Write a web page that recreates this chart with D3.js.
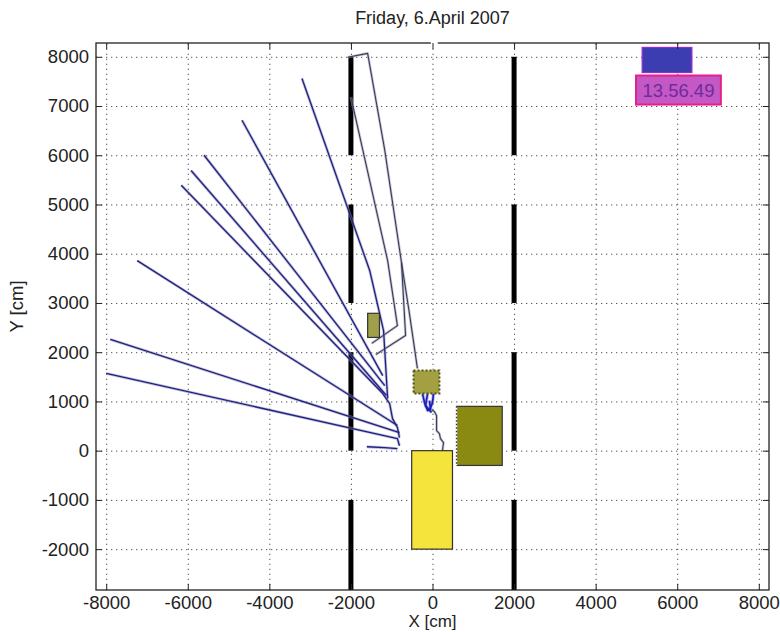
<!DOCTYPE html>
<html>
<head>
<meta charset="utf-8">
<script src="https://d3js.org/d3.v7.min.js"></script>
<style>
  body { margin: 0; background: #fff; }
  svg text { font-family: "Liberation Sans", Arial, sans-serif; fill: #222; }
  .grid line { stroke: #555; stroke-dasharray: 1.3, 3.7; }
  .grid path, .axis path { display: none; }
  .axis line { stroke: #222; }
  .axis text { font-size: 18.5px; }
</style>
</head>
<body>
<div id="chart"></div>
<script>
// tick values
var xTicks = [-8000, -6000, -4000, -2000, 0, 2000, 4000, 6000, 8000];
var yTicks = [-2000, -1000, 0, 1000, 2000, 3000, 4000, 5000, 6000, 7000, 8000];

// lane markings (x position, dash y-ranges in cm)
var laneX = [-2000, 2000];
var laneDashes = [[6000, 8000], [3000, 5000], [0, 2000], [-3000, -1000]];

// objects: [x0, x1, y0, y1] in cm
var objNames = ["car", "truck", "box", "post", "clockTop", "clock"];
var objBounds = [
  [-510, 490, -2000, 0],
  [590, 1710, -300, 900],
  [-465, 170, 1160, 1630],
  [-1590, -1300, 2300, 2790],
  [5140, 6360, 7680, 8190],
  [4990, 7070, 7030, 7620]
];
var clockText = "13.56.49";

// tracked paths [x, y] in cm
var fanTracks = [
  [[-8000, 1570], [-860, 245], [-810, 100]],
  [[-7900, 2260], [-810, 365]],
  [[-7240, 3860], [-860, 510]],
  [[-6160, 5390], [-1220, 1160], [-1050, 955], [-980, 650], [-860, 470], [-810, 265]],
  [[-5920, 5690], [-1130, 1120]],
  [[-5600, 6000], [-1170, 1320]],
  [[-4670, 6710], [-1220, 1525]],
  [[-3200, 7560], [-1540, 3660], [-1200, 2440], [-1100, 1060]],
  [[-1610, 80], [-1170, 60], [-860, 40]]
];
var loopTracks = [
  [[-2080, 7990], [-1590, 8070], [-1170, 6100], [-760, 3820], [-660, 2340], [-1390, 1950]],
  [[-2000, 7180], [-1100, 3860], [-860, 2540], [-1490, 2180]],
  [[-760, 3820], [-570, 2810], [-370, 1670]],
  [[245, 0], [270, 165], [195, 245], [170, 345], [100, 405], [100, 710], [50, 790], [-25, 835]]
];
var tangleTracks = [
  [[-245, 1160], [-195, 975], [-120, 815], [-50, 855], [-75, 1015]],
  [[-120, 1160], [-170, 915], [-25, 775]],
  [[25, 1160], [0, 975], [-75, 815]]
];

var margin = {top: 43, right: 11, bottom: 42, left: 96},
    width = 780 - margin.left - margin.right,
    height = 632 - margin.top - margin.bottom;

var x = d3.scaleLinear().domain([-8250, 8250]).range([0, width]);
var y = d3.scaleLinear().domain([-2830, 8280]).range([height, 0]);

var svg = d3.select("#chart")
    .append("svg")
    .attr("width", 780)
    .attr("height", 632);

svg.append("text")
    .attr("x", margin.left + x(0))
    .attr("y", 24)
    .attr("text-anchor", "middle")
    .style("font-size", "18px")
    .text("Friday, 6.April 2007");

var g = svg.append("g")
    .attr("transform", "translate(" + margin.left + "," + margin.top + ")");

g.append("clipPath").attr("id", "clip")
  .append("rect").attr("width", width).attr("height", height);

// grid
g.append("g").attr("class", "grid")
    .attr("transform", "translate(0," + height + ")")
    .call(d3.axisBottom(x).tickValues(xTicks).tickSize(-height).tickFormat(""));
g.append("g").attr("class", "grid")
    .call(d3.axisLeft(y).tickValues(yTicks).tickSize(-width).tickFormat(""));

var plot = g.append("g").attr("clip-path", "url(#clip)");

// lanes
laneX.forEach(function(lx) {
  plot.selectAll(null)
    .data(laneDashes)
    .enter().append("line")
    .attr("x1", x(lx)).attr("x2", x(lx))
    .attr("y1", function(d) { return y(d[1]); })
    .attr("y2", function(d) { return y(d[0]); })
    .attr("stroke", "#000")
    .attr("stroke-width", 5);
});

var line = d3.line()
    .x(function(d) { return x(d[0]); })
    .y(function(d) { return y(d[1]); });

function drawTracks(data, halo, core, w) {
  plot.selectAll(null).data(data).enter().append("path")
    .attr("d", line).attr("fill", "none")
    .attr("stroke", halo).attr("stroke-width", w + 1.6)
    .attr("stroke-linejoin", "round").attr("opacity", 0.55);
  plot.selectAll(null).data(data).enter().append("path")
    .attr("d", line).attr("fill", "none")
    .attr("stroke", core).attr("stroke-width", w)
    .attr("stroke-linejoin", "round");
}
drawTracks(loopTracks, "#9a9ab4", "#3a3a58", 1.1);
drawTracks(fanTracks, "#8c8cc0", "#20207e", 1.3);
drawTracks(tangleTracks, "#7070d8", "#1c1cb8", 1.6);

// objects
var objFill = {car: "#f5e43c", truck: "#8a8a12", box: "#a2a040", post: "#a0a04a", clockTop: "#3d3db2", clock: "#c458c4"};
var objStroke = {car: "#333", truck: "#333", box: "#55551a", post: "#333", clockTop: "#9a2ad0", clock: "#e3208c"};

objNames.forEach(function(name, i) {
  var b = objBounds[i];
  var r = plot.append("rect")
    .attr("x", x(b[0]))
    .attr("y", y(b[3]))
    .attr("width", x(b[1]) - x(b[0]))
    .attr("height", y(b[2]) - y(b[3]))
    .attr("fill", objFill[name])
    .attr("stroke", objStroke[name])
    .attr("stroke-width", name === "clock" ? 2 : 1.2);
  if (name === "box") r.attr("stroke-dasharray", "2,2").attr("stroke-width", 2);
  if (name === "truck") {
    plot.append("line")
      .attr("x1", x(b[0])).attr("x2", x(b[0]))
      .attr("y1", y(b[3])).attr("y2", y(b[2]))
      .attr("stroke", "#fff").attr("stroke-width", 1.4);
    plot.append("line")
      .attr("x1", x(b[0])).attr("x2", x(b[0]))
      .attr("y1", y(b[3])).attr("y2", y(b[2]))
      .attr("stroke", "#333").attr("stroke-width", 1.4)
      .attr("stroke-dasharray", "1.5,2");
  }
  if (name === "clock") {
    plot.append("text")
      .attr("x", (x(b[0]) + x(b[1])) / 2)
      .attr("y", (y(b[2]) + y(b[3])) / 2 + 6.5)
      .attr("text-anchor", "middle")
      .style("font-size", "18.5px")
      .style("fill", "#6e2c9c")
      .text(clockText);
  }
});

// frame and axes (ticks inward on all sides)
g.append("rect")
    .attr("width", width).attr("height", height)
    .attr("fill", "none").attr("stroke", "#222").attr("stroke-width", 1.3);
g.append("rect")
    .attr("x", x(-40)).attr("y", -2)
    .attr("width", x(130) - x(-40)).attr("height", 4)
    .attr("fill", "#fff");

var fmt = function(d) { return String(d); };

g.append("g").attr("class", "axis")
    .attr("transform", "translate(0," + height + ")")
    .call(d3.axisBottom(x).tickValues(xTicks).tickSize(-6).tickPadding(6).tickFormat(fmt));
g.append("g").attr("class", "axis")
    .call(d3.axisTop(x).tickValues(xTicks).tickSize(-6).tickFormat(""));
g.append("g").attr("class", "axis")
    .call(d3.axisLeft(y).tickValues(yTicks).tickSize(-6).tickPadding(7).tickFormat(fmt));
g.append("g").attr("class", "axis")
    .attr("transform", "translate(" + width + ",0)")
    .call(d3.axisRight(y).tickValues(yTicks).tickSize(-6).tickFormat(""));

svg.append("text")
    .attr("x", margin.left + x(0))
    .attr("y", 627)
    .attr("text-anchor", "middle")
    .style("font-size", "17px")
    .text("X [cm]");

svg.append("text")
    .attr("transform", "translate(23," + (margin.top + height / 2 - 10) + ") rotate(-90)")
    .attr("text-anchor", "middle")
    .style("font-size", "18.5px")
    .text("Y [cm]");
</script>
</body>
</html>
